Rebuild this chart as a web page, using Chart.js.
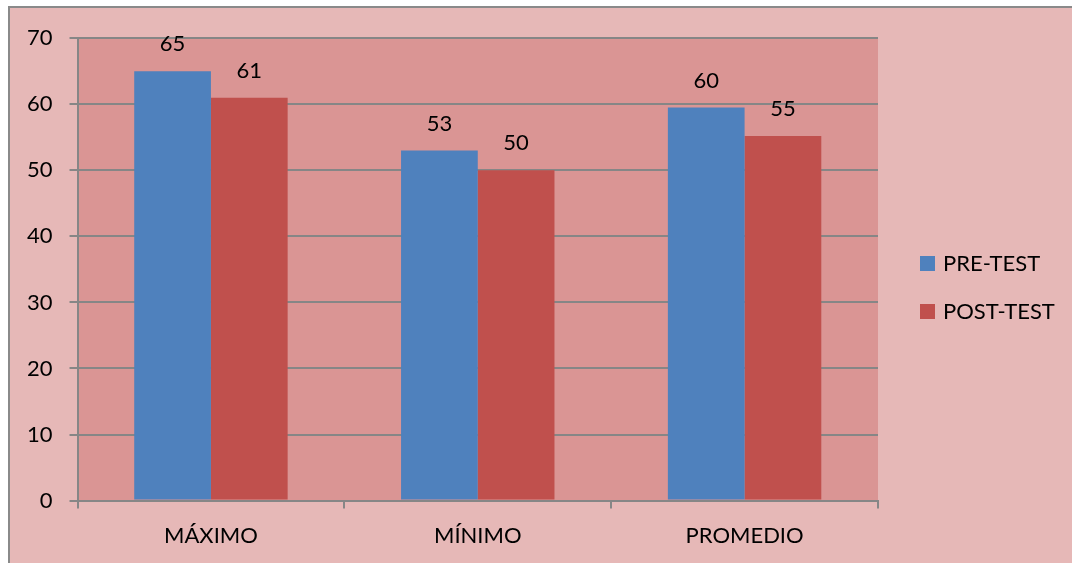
<!DOCTYPE html>
<html>
<head>
<meta charset="utf-8">
<script src="https://cdn.jsdelivr.net/npm/chart.js@4.4.1/dist/chart.umd.min.js"></script>
<style>
  html, body { margin: 0; padding: 0; background: #ffffff; overflow: hidden; }
  #wrap {
    position: absolute;
    left: 8px;
    top: 6px;
    width: 1064px;
    height: 557px;
    border-left: 2px solid #8a8a8a;
    border-top: 2px solid #8a8a8a;
    background: #e6b8b7;
  }
</style>
</head>
<body>
<div id="wrap"><canvas id="myChart"></canvas></div>
<script>
const categories = ["MÁXIMO", "MÍNIMO", "PROMEDIO"];
const preTest = [65, 53, 59.5];
const postTest = [61, 50, 55.2];
const seriesNames = ["PRE-TEST", "POST-TEST"];
const yTicks = [0, 10, 20, 30, 40, 50, 60, 70];

const fontFamily = "Lato, 'Open Sans', sans-serif";

// plot area fill behind the bars
const plotBg = {
  id: "plotBg",
  beforeDraw(chart) {
    const { ctx, chartArea } = chart;
    ctx.save();
    ctx.fillStyle = "#da9594";
    ctx.fillRect(chartArea.left, chartArea.top, chartArea.right - chartArea.left, chartArea.bottom - chartArea.top);
    ctx.restore();
  },
};

// value labels above each bar
const valueLabels = {
  id: "valueLabels",
  afterDatasetsDraw(chart) {
    const { ctx } = chart;
    ctx.save();
    ctx.font = "22px " + fontFamily;
    ctx.fillStyle = "#000000";
    ctx.textAlign = "center";
    ctx.textBaseline = "middle";
    chart.data.datasets.forEach((ds, i) => {
      chart.getDatasetMeta(i).data.forEach((bar, j) => {
        ctx.fillText(Math.round(ds.data[j]), bar.x, bar.y - 27);
      });
    });
    ctx.restore();
  },
};

// legend to the right of the plot, like the spreadsheet one
const sideLegend = {
  id: "sideLegend",
  afterDraw(chart) {
    const { ctx, chartArea } = chart;
    const x = chartArea.right + 42;
    const gap = 48;
    const n = chart.data.datasets.length;
    let y = chart.height / 2 + 1 - ((n - 1) * gap) / 2;
    ctx.save();
    ctx.font = "22px " + fontFamily;
    ctx.textBaseline = "middle";
    ctx.textAlign = "left";
    chart.data.datasets.forEach((ds) => {
      ctx.fillStyle = ds.backgroundColor;
      ctx.fillRect(x, y - 7.5, 15, 15);
      ctx.fillStyle = "#000000";
      ctx.fillText(ds.label, x + 23, y);
      y += gap;
    });
    ctx.restore();
  },
};

const ctx = document.getElementById("myChart").getContext("2d");
new Chart(ctx, {
  type: "bar",
  data: {
    labels: categories,
    datasets: [
      {
        label: seriesNames[0],
        data: preTest,
        backgroundColor: "#4f81bd",
        categoryPercentage: 0.575,
        barPercentage: 1.0,
      },
      {
        label: seriesNames[1],
        data: postTest,
        backgroundColor: "#c0504d",
        categoryPercentage: 0.575,
        barPercentage: 1.0,
      },
    ],
  },
  options: {
    responsive: true,
    maintainAspectRatio: false,
    animation: false,
    layout: { padding: { top: 27, left: 0, right: 196, bottom: 2 } },
    plugins: {
      legend: { display: false },
      tooltip: { enabled: false },
    },
    scales: {
      x: {
        grid: {
          drawOnChartArea: false,
          drawTicks: true,
          tickLength: 8,
          color: "#868686",
          lineWidth: 2,
        },
        border: { color: "#868686", width: 2 },
        ticks: {
          color: "#000000",
          padding: 14,
          font: { family: fontFamily, size: 22 },
        },
      },
      y: {
        min: 0,
        max: 70,
        afterBuildTicks: (axis) => {
          axis.ticks = yTicks.map((v) => ({ value: v }));
        },
        grid: {
          color: "#868686",
          lineWidth: 2,
          tickLength: 8,
        },
        border: { color: "#868686", width: 2 },
        ticks: {
          color: "#000000",
          padding: 17,
          font: { family: fontFamily, size: 22 },
        },
      },
    },
  },
  plugins: [plotBg, valueLabels, sideLegend],
});
</script>
</body>
</html>
